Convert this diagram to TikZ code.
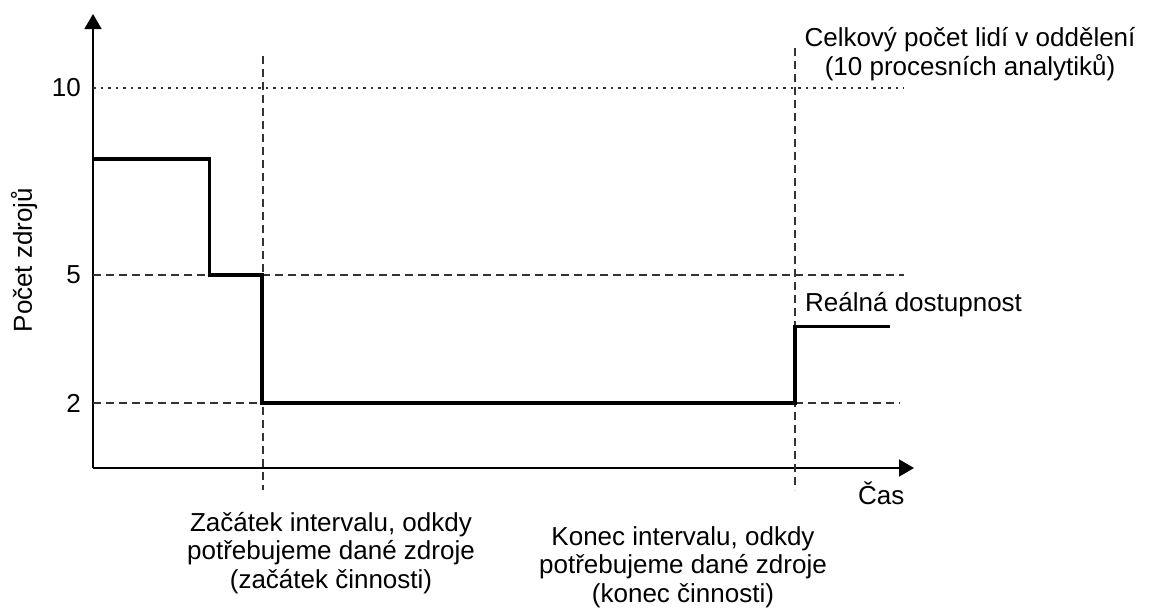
\documentclass[tikz,border=0pt]{standalone}
\usepackage{fontspec}
\setmainfont{Liberation Sans}
\usetikzlibrary{arrows.meta}
\begin{document}
\begin{tikzpicture}[x=1pt,y=-1pt,
  axis/.style={line width=1.6pt,-{Triangle[length=15pt,width=17pt]}},
  guide/.style={line width=1.4pt,draw=black!80,dash pattern=on 8pt off 5pt},
  dotguide/.style={line width=1.4pt,draw=black!80,dash pattern=on 2.5pt off 5pt},
  level/.style={line width=3.2pt,line join=miter,line cap=butt},
  lbl/.style={font=\fontsize{26}{28.5}\selectfont,inner sep=0pt},
  lblc/.style={lbl,align=center}]
\useasboundingbox (0,0) rectangle (1150,608);

% axes
\coordinate (O) at (93,468);
\coordinate (ytop) at (93,14);
\coordinate (xend) at (914,468);
\draw[axis] (O) -- (ytop);
\draw[axis] (O) -- (xend);

% horizontal reference lines
\draw[dotguide] (93,88) -- (904,88);
\draw[guide] (93,275) -- (904,275);
\draw[guide] (93,403) -- (900,403);

% interval boundaries
\draw[guide] (263,56) -- (263,490);
\draw[guide] (795,48) -- (795,490);

% available resources over time
\draw[level] (93,159) -- (209.5,159) -- (209.5,275) -- (262,275) -- (262,403)
  -- (795,403) -- (795,326.5) -- (890,326.5);

% tick labels
\node[lbl,anchor=east] (t10) at (81,88) {10};
\node[lbl,anchor=east] (t5) at (81,275) {5};
\node[lbl,anchor=east] (t2) at (81,403) {2};
\node[lbl,rotate=90] (ylab) at (24,260) {Počet zdrojů};
\node[lbl,anchor=west] (xlab) at (858,493) {Čas};

% annotations
\node[lblc] (total) at (970,54) {Celkový počet lidí v oddělení\\(10 procesních analytiků)};
\node[lbl,anchor=west] (real) at (805,305) {Reálná dostupnost};
\node[lblc] (start) at (331,553) {Začátek intervalu, odkdy\\potřebujeme dané zdroje\\(začátek činnosti)};
\node[lblc] (stop) at (683,567) {Konec intervalu, odkdy\\potřebujeme dané zdroje\\(konec činnosti)};
\end{tikzpicture}
\end{document}
